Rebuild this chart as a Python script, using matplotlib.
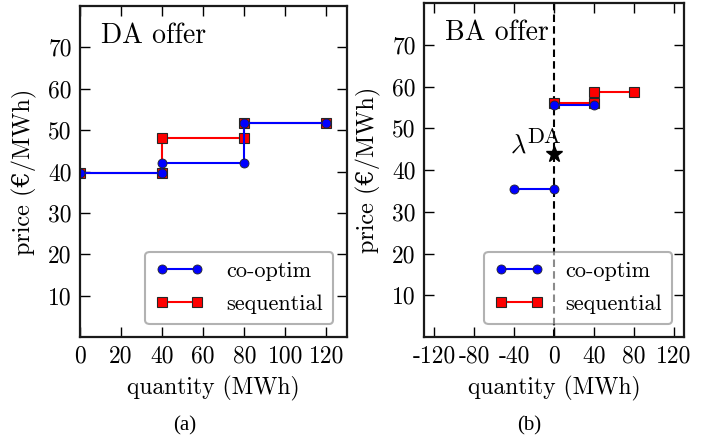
import matplotlib
matplotlib.use("Agg")
import matplotlib.pyplot as plt

# DA offer data
da_co_q = [0, 40, 40, 80, 80, 120]
da_co_p = [39.7, 39.7, 42.0, 42.0, 51.7, 51.7]
da_seq_q = [0, 40, 40, 80, 80, 120]
da_seq_p = [39.7, 39.7, 48.2, 48.2, 51.7, 51.7]

# BA offer data (segments)
ba_co_q1 = [-40, 0]
ba_co_p1 = [35.5, 35.5]
ba_co_q2 = [0, 40]
ba_co_p2 = [55.6, 55.6]
ba_seq_q = [0, 40, 40, 80]
ba_seq_p = [56.0, 56.0, 58.7, 58.7]
lambda_da = 43.9

da_xticks = [0, 20, 40, 60, 80, 100, 120]
ba_xticks = [-120, -80, -40, 0, 40, 80, 120]
yticks = [10, 20, 30, 40, 50, 60, 70]

plt.rcParams['font.family'] = ['cmr10', 'DejaVu Serif']
plt.rcParams['mathtext.fontset'] = 'cm'
plt.rcParams['axes.unicode_minus'] = False
plt.rcParams['axes.formatter.use_mathtext'] = False

fig = plt.figure(figsize=(7.18, 4.41), dpi=100)
ax1 = fig.add_axes([80/718, 1-337/441, 267/718, 331/441])
ax2 = fig.add_axes([424/718, 1-337/441, 260/718, 334/441])

FS = 17
lw = 1.5
ms = 6.5

def style(ax):
    ax.tick_params(direction='in', top=True, right=True, length=7, width=1, labelsize=FS, pad=6)
    for s in ax.spines.values():
        s.set_linewidth(1.6)
        s.set_color('0.1')
    ax.set_ylim(0, 80)
    ax.set_yticks(yticks)
    ax.set_xlabel('quantity (MWh)', fontsize=17, labelpad=6)
    ax.set_ylabel('price (€/MWh)', fontsize=17.5, labelpad=8)

def add_legend(ax, anchor):
    h, l = ax.get_legend_handles_labels()
    leg = ax.legend(h[::-1], l[::-1], loc='lower right', numpoints=2, fontsize=16, frameon=True,
                    fancybox=True, framealpha=0.55, edgecolor='0.45', borderpad=0.45,
                    borderaxespad=0, handlelength=2.2, handletextpad=1.0, labelspacing=0.6,
                    bbox_to_anchor=anchor)
    leg.get_frame().set_linewidth(1.5)

# Left
ax1.plot(da_seq_q, da_seq_p, color='red', marker='s', lw=lw, ms=ms, mec='0.15', mew=0.8, label='sequential')
ax1.plot(da_co_q, da_co_p, color='blue', marker='o', lw=lw, ms=ms, mec='0.15', mew=0.6, label='co-optim')
ax1.set_xlim(0, 130)
ax1.set_xticks(da_xticks)
style(ax1)
ax1.text(0.08, 0.95, 'DA offer', transform=ax1.transAxes, fontsize=20, va='top', ha='left')
add_legend(ax1, (0.9476, 0.039))

# Right
ax2.axvline(0, color='black', ls=(0, (3.6, 2.0)), lw=1.5, zorder=1)
ax2.plot(ba_seq_q, ba_seq_p, color='red', marker='s', lw=lw, ms=ms, mec='0.15', mew=0.8, label='sequential')
ax2.plot(ba_co_q1, ba_co_p1, color='blue', marker='o', lw=lw, ms=ms, mec='0.15', mew=0.6, label='co-optim')
ax2.plot(ba_co_q2, ba_co_p2, color='blue', marker='o', lw=lw, ms=ms, mec='0.15', mew=0.6)
ax2.plot([0], [lambda_da], marker='*', color='black', ms=12, ls='none')
ax2.text(-44, 44.1, r'$\lambda$', fontsize=19, ha='left', va='baseline')
ax2.text(-27, 46.5, 'DA', fontsize=16, ha='left', va='baseline')
ax2.set_xlim(-130, 130)
ax2.set_xticks(ba_xticks)
style(ax2)
ax2.text(0.08, 0.95, 'BA offer', transform=ax2.transAxes, fontsize=20, va='top', ha='left')
add_legend(ax2, (0.954, 0.039))

fig.text(185/718, 1-426/441, '(a)', fontsize=15, family='Liberation Serif', ha='center', va='center')
fig.text(529/718, 1-426/441, '(b)', fontsize=15, family='Liberation Serif', ha='center', va='center')

fig.savefig('out.png', dpi=100)
